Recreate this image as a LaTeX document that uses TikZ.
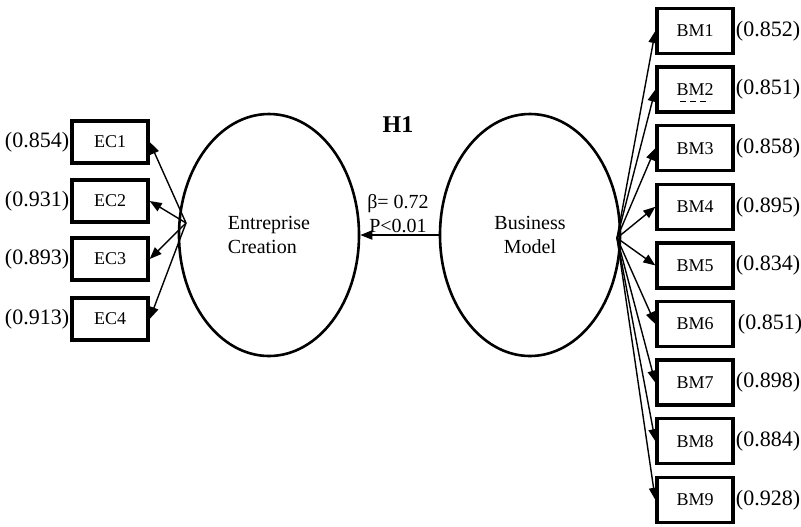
\documentclass[tikz,border=0pt]{standalone}
\usepackage{fontspec}
\setmainfont{Liberation Serif}
\usetikzlibrary{arrows.meta,shapes.geometric}
\tikzset{
  item/.style={draw,line width=1.7pt,inner sep=0pt,minimum width=38pt,font=\fontsize{9}{10}\selectfont},
  ecitem/.style={item,minimum height=21pt},
  bmitem/.style={item,minimum height=22.5pt},
  construct/.style={ellipse,draw,line width=1.3pt,inner sep=0pt,minimum width=90pt,minimum height=121pt,font=\fontsize{10}{12}\selectfont},
  loading/.style={font=\fontsize{11}{13}\selectfont,inner sep=0pt},
  path/.style={-{Triangle[length=6pt,width=4.6pt]},line width=.7pt}
}

\begin{document}
\begin{tikzpicture}[x=.5pt,y=-.5pt]
  \useasboundingbox (0,0) rectangle (801,526);
  % latent variables
  \node[construct,align=left] (ecre) at (269,235) {Entreprise\\Creation};
  \node[construct,align=center] (bmod) at (530,235) {Business\\Model};
  \coordinate (echub) at (186,223);
  \coordinate (bmhub) at (617,238);

  % entreprise creation indicators
  \node[ecitem] (ec1) at (110,142) {EC1};
  \node[ecitem] (ec2) at (110,201) {EC2};
  \node[ecitem] (ec3) at (110,259) {EC3};
  \node[ecitem] (ec4) at (110,319) {EC4};
  \node[loading] (lec1) at (37,142) {(0.854)};
  \node[loading] (lec2) at (37,201) {(0.931)};
  \node[loading] (lec3) at (37,259) {(0.893)};
  \node[loading] (lec4) at (37,319) {(0.913)};
  \draw[path] (echub)--(ec1.east); \draw[path] (echub)--(ec2.east);
  \draw[path] (echub)--(ec3.east); \draw[path] (echub)--(ec4.east);

  % business model indicators
  \node[bmitem] (bm1) at (695,31) {BM1};
  \node[bmitem] (bm2) at (695,89.6) {BM2};
  \node[bmitem] (bm3) at (695,148.2) {BM3};
  \node[bmitem] (bm4) at (695,206.8) {BM4};
  \node[bmitem] (bm5) at (695,265.4) {BM5};
  \node[bmitem] (bm6) at (695,324) {BM6};
  \node[bmitem] (bm7) at (695,382.6) {BM7};
  \node[bmitem] (bm8) at (695,441.2) {BM8};
  \node[bmitem] (bm9) at (695,499.8) {BM9};
  \draw[dash pattern=on 3pt off 2pt,line width=.6pt]
    ([xshift=-7.5pt,yshift=-6pt]bm2.center) -- ([xshift=7.5pt,yshift=-6pt]bm2.center);
  \node[loading] (lbm1) at (768,31) {(0.852)};
  \node[loading] (lbm2) at (768,89.6) {(0.851)};
  \node[loading] (lbm3) at (768,148.2) {(0.858)};
  \node[loading] (lbm4) at (768,206.8) {(0.895)};
  \node[loading] (lbm5) at (768,265.4) {(0.834)};
  \node[loading] (lbm6) at (770,324) {(0.851)};
  \node[loading] (lbm7) at (768,382.6) {(0.898)};
  \node[loading] (lbm8) at (768,441.2) {(0.884)};
  \node[loading] (lbm9) at (768,499.8) {(0.928)};
  \draw[path] (bmhub)--(bm1.west); \draw[path] (bmhub)--(bm2.west);
  \draw[path] (bmhub)--(bm3.west); \draw[path] (bmhub)--(bm4.west);
  \draw[path] (bmhub)--(bm5.west); \draw[path] (bmhub)--(bm6.west);
  \draw[path] (bmhub)--(bm7.west); \draw[path] (bmhub)--(bm8.west);
  \draw[path] (bmhub)--(bm9.west);

  % structural path
  \draw[path] (bmod.west)--(ecre.east);
  \node[font=\fontsize{12}{14}\selectfont\bfseries] (h1) at (398,125) {H1};
  \node[align=center,font=\fontsize{10}{12}\selectfont,inner sep=0pt] (coef) at (398,214) {β= 0.72\\P<0.01};
\end{tikzpicture}
\end{document}
